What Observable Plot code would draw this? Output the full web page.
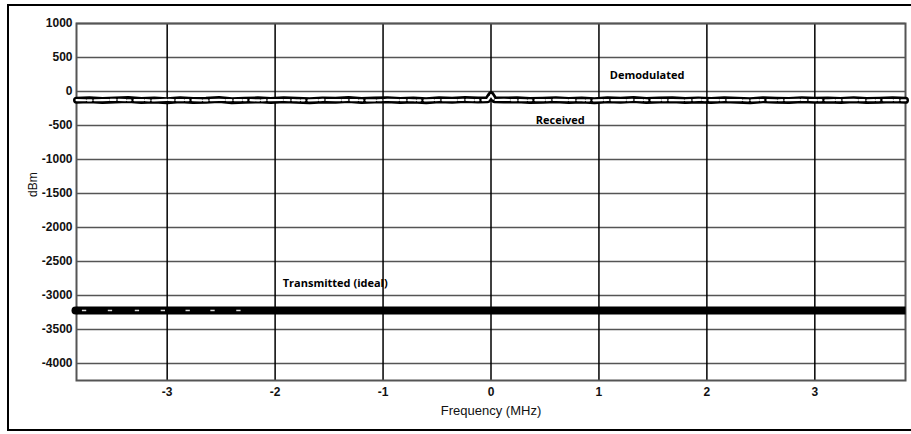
<!DOCTYPE html>
<html>
<head>
<meta charset="utf-8">
<script src="https://cdn.jsdelivr.net/npm/d3@7"></script>
<script src="https://cdn.jsdelivr.net/npm/@observablehq/plot@0.6"></script>
<style>
  html, body { margin: 0; padding: 0; background: #fff; }
  #wrap { position: relative; width: 911px; height: 434px; overflow: hidden; }
  #border { position: absolute; left: 7px; top: 4px; width: 906px; height: 427px; border: 2px solid #000; pointer-events: none; box-sizing: border-box; }
</style>
</head>
<body>
<div id="wrap"><div id="border"></div></div>
<script>
const freq = [-3.84,-3.72,-3.60,-3.48,-3.36,-3.24,-3.12,-3.00,-2.88,-2.76,
  -2.64,-2.52,-2.40,-2.28,-2.16,-2.04,-1.92,-1.80,-1.68,-1.56,
  -1.44,-1.32,-1.20,-1.08,-0.96,-0.84,-0.72,-0.60,-0.48,-0.36,
  -0.24,-0.12,-0.03,0.00,0.03,0.12,0.24,0.36,0.48,0.60,0.72,0.84,
  0.96,1.08,1.20,1.32,1.44,1.56,1.68,1.80,1.92,2.04,
  2.16,2.28,2.40,2.52,2.64,2.76,2.88,3.00,3.12,3.24,
  3.36,3.48,3.60,3.72,3.84];
const received = [-128,-122,-134,-126,-119,-133,-125,-136,-121,-131,
  -127,-118,-135,-128,-123,-133,-120,-130,-137,-124,
  -129,-119,-134,-126,-121,-133,-124,-136,-122,-130,
  -118,-126,-120,-45,-121,-125,-122,-134,-127,-120,-131,-125,
  -136,-122,-129,-119,-133,-126,-121,-134,-124,-131,
  -120,-129,-135,-122,-127,-133,-121,-129,-125,-134,
  -120,-131,-127,-122,-130];
const demodulated = [-126,-130,-127,-123,-129,-127,-131,-124,-128,-126,
  -131,-123,-128,-126,-130,-127,-125,-129,-131,-124,
  -127,-125,-129,-130,-124,-127,-129,-130,-125,-127,
  -123,-127,-124,-55,-125,-124,-127,-129,-126,-124,-127,-129,
  -130,-125,-127,-124,-129,-126,-127,-129,-124,-127,
  -125,-127,-130,-125,-129,-127,-124,-126,-129,-127,
  -124,-129,-126,-127,-129];
const transmittedFreq = [-3.84, 3.84];
const transmittedLevel = -3220;
const transmittedSpecks = [-3.77,-3.53,-3.28,-3.04,-2.81,-2.58,-2.34];
const xTicks = [-3,-2,-1,0,1,2,3];
const yTicks = [1000,500,0,-500,-1000,-1500,-2000,-2500,-3000,-3500,-4000];
const labels = ["Demodulated","Received","Transmitted (ideal)"];
const labelFreq = [1.10, 0.415, -1.93];
const labelLevel = [235, -430, -2825];
const xTitle = "Frequency (MHz)";
const yTitle = "dBm";

const recData = freq.map((f,i)=>({f, v: received[i]}));
const demData = freq.map((f,i)=>({f, v: demodulated[i]}));
const txData = transmittedFreq.map(f=>({f, v: transmittedLevel}));
const speckData = transmittedSpecks.map(f=>({x1: f-0.02, x2: f+0.02, v: transmittedLevel}));
const labelData = labels.map((t,i)=>({t, f: labelFreq[i], v: labelLevel[i]}));
const fmt = d => String(d);

const chart = Plot.plot({
  width: 911, height: 434,
  marginLeft: 76, marginRight: 6, marginTop: 23, marginBottom: 54,
  style: {fontFamily: "Liberation Sans, Arial, sans-serif", fontSize: "12px", color: "#111", background: "transparent"},
  x: {domain: [-3.84, 3.84]},
  y: {domain: [-4250, 1000]},
  marks: [
    Plot.gridY(yTicks, {stroke: "#555", strokeOpacity: 1, strokeWidth: 1.6}),
    Plot.gridX(xTicks, {stroke: "#000", strokeOpacity: 1, strokeWidth: 1.5}),
    Plot.frame({stroke: "#555", strokeWidth: 2}),
    Plot.line(txData, {x: "f", y: "v", stroke: "#000", strokeWidth: 8, strokeLinecap: "butt"}),
    Plot.dot(txData.slice(0,1), {x: "f", y: "v", r: 4, fill: "#000", dx: -1}),
    Plot.link(speckData, {x1: "x1", x2: "x2", y1: "v", y2: "v", stroke: "#ddd", strokeWidth: 1.5}),
    Plot.line(recData, {x: "f", y: "v", stroke: "#000", strokeWidth: 7, curve: "linear"}),
    Plot.line(demData, {x: "f", y: "v", stroke: "#000", strokeWidth: 3, curve: "linear"}),
    Plot.line(demData, {x: "f", y: "v", stroke: "#fff", strokeWidth: 2.2, strokeDasharray: "9,2,4,3,14,2,5,3,7,2,3,4", curve: "linear"}),
    Plot.text(labelData, {x: "f", y: "v", text: "t", textAnchor: "start", fontFamily: "Open Sans, sans-serif", fontWeight: "bold", fontSize: 11, fill: "#000"}),
    Plot.axisX({ticks: xTicks, tickSize: 0, tickPadding: 7, tickFormat: fmt, fontWeight: "bold", fontSize: 12, label: null}),
    Plot.axisY({ticks: yTicks, tickSize: 0, tickPadding: 4, tickFormat: fmt, fontWeight: "bold", fontSize: 12, label: null}),
    Plot.text([xTitle], {frameAnchor: "bottom", dy: 34, fontSize: 13, fill: "#111"}),
    Plot.text([yTitle], {frameAnchor: "left", dx: -43, dy: -5, rotate: -90, fontSize: 12, fill: "#111"})
  ]
});
document.getElementById("wrap").prepend(chart);
</script>
</body>
</html>
